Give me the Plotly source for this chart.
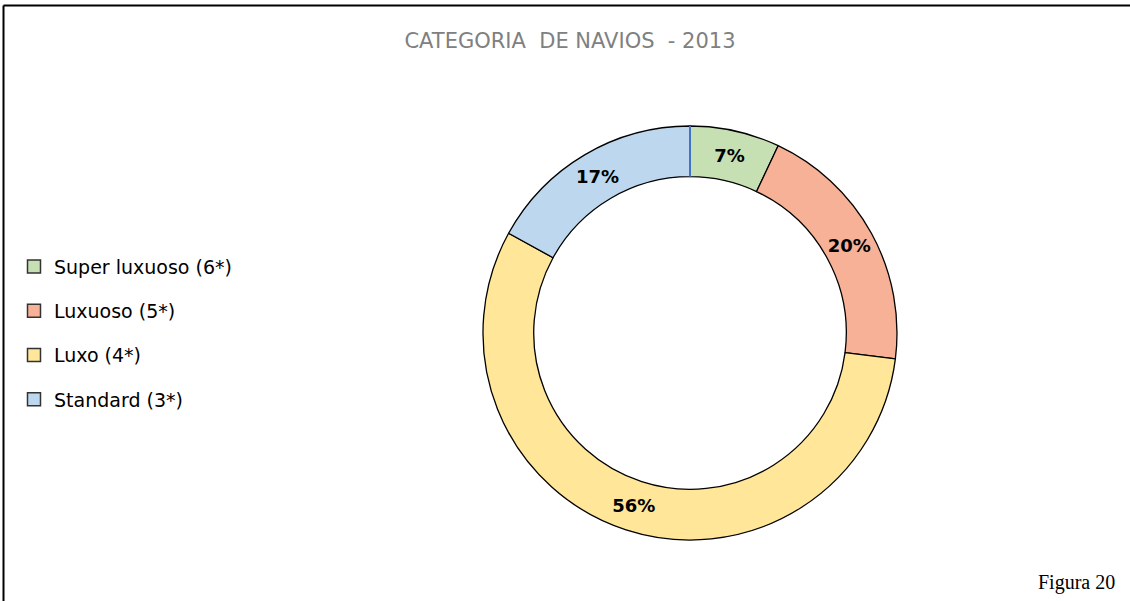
import plotly.graph_objects as go

categories = ["Super luxuoso (6*)", "Luxuoso (5*)", "Luxo (4*)", "Standard (3*)"]
values = [7, 20, 56, 17]
colors = ["#C6E0B4", "#F7B196", "#FFE699", "#BDD7EE"]

W, H = 1130, 601
cx, cy, R = 690, 333, 207
HOLE = 0.755
dom_x = [(cx - R) / W, (cx + R) / W]
dom_y = [1 - (cy + R) / H, 1 - (cy - R) / H]
FONT = "DejaVu Sans"

fig = go.Figure()
fig.add_trace(go.Pie(
    labels=categories, values=values, sort=False, direction="clockwise", rotation=0,
    hole=HOLE, domain=dict(x=dom_x, y=dom_y),
    marker=dict(colors=colors, line=dict(color="black", width=1.3)),
    texttemplate="%{percent:.0%}", textposition="inside", insidetextorientation="horizontal",
    textfont=dict(family=FONT, size=18, color="black", weight="bold"),
    showlegend=False, hoverinfo="label+percent",
))

for i, (c, col) in enumerate(zip(categories, colors)):
    fig.add_trace(go.Scatter(
        x=[None], y=[None], mode="markers", name=c, legendgroup=f"g{i}",
        marker=dict(symbol="square", size=13, color=col, line=dict(color="#333333", width=1.5)),
        showlegend=True,
    ))

fig.update_layout(
    width=W, height=H, margin=dict(l=0, r=0, t=0, b=0),
    paper_bgcolor="white", plot_bgcolor="white",
    xaxis=dict(visible=False), yaxis=dict(visible=False),
    title=dict(text="CATEGORIA  DE NAVIOS  - 2013", x=570 / W, xanchor="center",
               y=1 - 41 / H, yanchor="middle",
               font=dict(family=FONT, size=21, color="#808080")),
    legend=dict(x=14 / W, y=1 - 247.6 / H, xanchor="left", yanchor="top",
                traceorder="grouped", tracegroupgap=16.6,
                font=dict(family=FONT, size=19, color="black"),
                itemwidth=30, bgcolor="rgba(0,0,0,0)"),
    shapes=[
        dict(type="line", xref="paper", yref="paper", x0=3.5 / W, x1=3.5 / W, y0=0, y1=1 - 5.5 / H,
             line=dict(color="black", width=2)),
        dict(type="line", xref="paper", yref="paper", x0=3.5 / W, x1=1, y0=1 - 5.5 / H, y1=1 - 5.5 / H,
             line=dict(color="black", width=2)),
        dict(type="line", xref="paper", yref="paper", x0=cx / W, x1=cx / W,
             y0=1 - (cy - R) / H, y1=1 - (cy - R * HOLE) / H,
             line=dict(color="#4472C4", width=2)),
    ],
    annotations=[
        dict(text="Figura 20", xref="paper", yref="paper", x=1117 / W, y=1 - 582 / H,
             xanchor="right", yanchor="middle", showarrow=False,
             font=dict(family="Liberation Serif", size=20, color="black")),
    ],
)

fig.write_html(
    "out.html",
    config={"displayModeBar": False},
    post_script="document.body.style.margin='0';document.body.style.overflow='hidden';",
)
